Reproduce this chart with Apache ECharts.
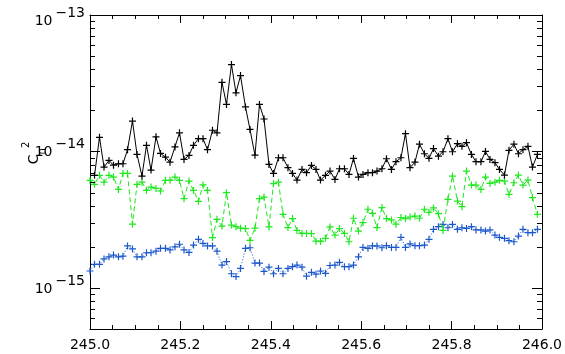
<!DOCTYPE html>
<html>
<head>
<meta charset="utf-8">
<script src="https://cdn.jsdelivr.net/npm/echarts@6/dist/echarts.min.js"></script>
<style>
  html, body { margin: 0; padding: 0; background: #fff; }
  #chart { width: 565px; height: 354px; }
</style>
</head>
<body>
<div id="chart"></div>
<script>
// Sample positions along the horizontal axis
const xs = [
  245.000,245.010,245.021,245.031,245.042,245.052,245.063,245.073,245.083,245.094,245.104,245.115,
  245.125,245.135,245.146,245.156,245.167,245.177,245.188,245.198,245.208,245.219,245.229,245.240,
  245.250,245.260,245.271,245.281,245.292,245.302,245.313,245.323,245.333,245.344,245.354,245.365,
  245.375,245.385,245.396,245.406,245.417,245.427,245.438,245.448,245.458,245.469,245.479,245.490,
  245.500,245.510,245.521,245.531,245.542,245.552,245.563,245.573,245.583,245.594,245.604,245.615,
  245.625,245.635,245.646,245.656,245.667,245.677,245.688,245.698,245.708,245.719,245.729,245.740,
  245.750,245.760,245.771,245.781,245.792,245.802,245.813,245.823,245.833,245.844,245.854,245.865,
  245.875,245.885,245.896,245.906,245.917,245.927,245.938,245.948,245.958,245.969,245.979,245.990
];

// Upper profile (black, solid)
const blackVals = [
  null, 6.68e-15, 1.27e-14, 7.68e-15, 8.59e-15, 7.94e-15, 8.13e-15, 8.13e-15, 1.03e-14, 1.67e-14, 9.51e-15,
  6.60e-15, 1.11e-14, 7.30e-15, 1.28e-14, 9.67e-15, 9.08e-15, 8.35e-15, 1.08e-14, 1.37e-14, 8.74e-15,
  9.35e-15, 1.11e-14, 1.24e-14, 1.24e-14, 1.03e-14, 1.43e-14, 1.37e-14, 3.21e-14, 2.21e-14, 4.33e-14,
  2.69e-14, 3.60e-14, 2.12e-14, 1.45e-14, 9.40e-15, 2.21e-14, 1.73e-14, 8.03e-15, 6.90e-15, 8.99e-15,
  8.99e-15, 7.60e-15, 6.90e-15, 6.17e-15, 7.39e-15, 6.99e-15, 7.90e-15, 7.39e-15, 6.17e-15, 6.68e-15,
  7.18e-15, 6.24e-15, 7.47e-15, 7.47e-15, 6.79e-15, 8.89e-15, 6.49e-15, 6.79e-15, 6.99e-15, 6.99e-15,
  7.18e-15, 7.47e-15, 8.84e-15, 7.39e-15, 8.41e-15, 8.99e-15, 1.35e-14, 7.60e-15, 8.35e-15, 1.13e-14,
  9.62e-15, 8.90e-15, 1.05e-14, 9.24e-15, 9.95e-15, 1.24e-14, 9.95e-15, 1.14e-14, 1.09e-14, 1.16e-14,
  9.51e-15, 8.41e-15, 8.41e-15, 1.00e-14, 8.74e-15, 8.27e-15, 7.39e-15, 6.71e-15, 1.02e-14, 1.13e-14,
  9.62e-15, 1.03e-14, 1.09e-14, 7.68e-15, 9.51e-15
];

// Middle profile (green, dashed)
const greenVals = [
  6.14e-15, 5.74e-15, 6.68e-15, 5.96e-15, 6.68e-15, 6.49e-15, 5.27e-15, 6.90e-15, 6.90e-15, 2.93e-15,
  5.74e-15, 5.96e-15, 5.19e-15, 5.48e-15, 5.36e-15, 5.13e-15, 6.14e-15, 6.14e-15, 6.49e-15, 6.14e-15,
  4.51e-15, 6.07e-15, 5.19e-15, 4.31e-15, 5.69e-15, 5.19e-15, 2.34e-15, 3.18e-15, 2.84e-15, 4.99e-15,
  2.89e-15, 2.81e-15, 2.74e-15, 2.72e-15, 2.23e-15, 2.74e-15, 4.51e-15, 4.63e-15, 2.80e-15, 5.81e-15,
  5.96e-15, 3.46e-15, 2.77e-15, 3.22e-15, 2.64e-15, 2.51e-15, 2.51e-15, 2.50e-15, 2.20e-15, 2.19e-15,
  2.31e-15, 2.80e-15, 2.44e-15, 2.72e-15, 2.51e-15, 2.18e-15, 3.24e-15, 2.61e-15, 3.01e-15, 3.77e-15,
  3.52e-15, 2.77e-15, 3.88e-15, 3.22e-15, 3.15e-15, 2.93e-15, 3.28e-15, 3.22e-15, 3.31e-15, 3.36e-15,
  3.24e-15, 3.77e-15, 3.58e-15, 3.86e-15, 3.50e-15, 2.64e-15, 4.46e-15, 6.60e-15, 4.33e-15, 3.94e-15,
  7.18e-15, 5.67e-15, 5.67e-15, 5.27e-15, 6.49e-15, 5.83e-15, 5.96e-15, 6.14e-15, 6.07e-15, 4.85e-15,
  5.90e-15, 6.71e-15, 5.67e-15, 6.17e-15, 4.59e-15, 3.46e-15
];

// Lower profile (blue, dotted)
const blueVals = [
  1.33e-15, 1.49e-15, 1.49e-15, 1.63e-15, 1.69e-15, 1.74e-15, 1.69e-15, 1.71e-15, 2.03e-15, 1.93e-15,
  1.69e-15, 1.69e-15, 1.81e-15, 1.81e-15, 1.86e-15, 1.95e-15, 1.95e-15, 1.90e-15, 2.00e-15, 2.09e-15,
  1.90e-15, 1.82e-15, 2.06e-15, 2.27e-15, 2.12e-15, 2.03e-15, 2.03e-15, 1.86e-15, 1.47e-15, 1.56e-15,
  1.27e-15, 1.21e-15, 1.39e-15, 1.95e-15, 1.97e-15, 1.52e-15, 1.52e-15, 1.32e-15, 1.42e-15, 1.27e-15,
  1.39e-15, 1.27e-15, 1.39e-15, 1.43e-15, 1.47e-15, 1.42e-15, 1.22e-15, 1.30e-15, 1.26e-15, 1.33e-15,
  1.28e-15, 1.46e-15, 1.47e-15, 1.54e-15, 1.43e-15, 1.43e-15, 1.47e-15, 1.69e-15, 1.98e-15, 1.95e-15,
  2.03e-15, 2.03e-15, 1.97e-15, 2.04e-15, 1.98e-15, 1.98e-15, 2.35e-15, 1.98e-15, 2.10e-15, 2.04e-15,
  2.04e-15, 2.06e-15, 2.27e-15, 2.69e-15, 2.81e-15, 2.92e-15, 2.76e-15, 2.92e-15, 2.69e-15, 2.76e-15,
  2.73e-15, 2.81e-15, 2.66e-15, 2.66e-15, 2.61e-15, 2.66e-15, 2.44e-15, 2.35e-15, 2.31e-15, 2.22e-15,
  2.18e-15, 2.40e-15, 2.69e-15, 2.54e-15, 2.54e-15, 2.69e-15
];

// Axis ranges and minor log ticks (2..9 per decade)
const xRange = [245.0, 246.0];
const yRange = [5e-16, 1e-13];
const yMinorTicks = [
  6e-16, 7e-16, 8e-16, 9e-16,
  2e-15, 3e-15, 4e-15, 5e-15, 6e-15, 7e-15, 8e-15, 9e-15,
  2e-14, 3e-14, 4e-14, 5e-14, 6e-14, 7e-14, 8e-14, 9e-14
];

const FONT = '"DejaVu Sans", "Liberation Sans", sans-serif';
const PLUS = 'path://M-0.6,-3.5 H0.6 V-0.6 H3.5 V0.6 H0.6 V3.5 H-0.6 V0.6 H-3.5 V-0.6 H-0.6 Z';

function pairs(vals) {
  return xs.map((x, i) => [x, vals[i]]);
}

// Power-of-ten labels; the topmost one sits just inside the frame
function powLabel(v) {
  const e = Math.log10(v);
  const r = Math.round(e);
  if (Math.abs(e - r) > 1e-6) return '';
  const top = Math.abs(v - yRange[1]) / yRange[1] < 1e-6;
  return top
    ? '{nt|10}{et|\u2212' + Math.abs(r) + '}'
    : '{n|10}{e|\u2212' + Math.abs(r) + '}';
}

const chart = echarts.init(document.getElementById('chart'), null, { renderer: 'canvas' });

const lineBase = {
  type: 'line',
  symbol: PLUS,
  symbolSize: 7,
  showSymbol: true,
  connectNulls: false,
  clip: false,
  animation: false,
  silent: true
};

chart.setOption({
  animation: false,
  backgroundColor: '#ffffff',
  textStyle: { fontFamily: FONT },
  grid: { left: 90, right: 21, top: 15, bottom: 25, containLabel: false },
  xAxis: [
    {
      type: 'value', min: xRange[0], max: xRange[1], interval: 0.2, position: 'bottom',
      axisLine: { show: true, onZero: false, lineStyle: { color: '#000', width: 1 } },
      axisTick: { show: true, inside: true, length: 8, lineStyle: { color: '#000' } },
      minorTick: { show: true, splitNumber: 4, length: 4, lineStyle: { color: '#000' } },
      splitLine: { show: false },
      axisLabel: {
        show: true, margin: 9, color: '#000', fontFamily: FONT, fontSize: 14,
        formatter: v => v.toFixed(1)
      }
    },
    {
      type: 'value', min: xRange[0], max: xRange[1], interval: 0.2, position: 'top',
      axisLine: { show: true, onZero: false, lineStyle: { color: '#000', width: 1 } },
      axisTick: { show: true, inside: true, length: 8, lineStyle: { color: '#000' } },
      minorTick: { show: true, splitNumber: 4, length: 4, lineStyle: { color: '#000' } },
      splitLine: { show: false },
      axisLabel: { show: false }
    }
  ],
  yAxis: [
    {
      type: 'log', logBase: 10, min: yRange[0], max: yRange[1], position: 'left',
      axisLine: { show: true, onZero: false, lineStyle: { color: '#000', width: 1 } },
      axisTick: { show: true, inside: true, length: 10, lineStyle: { color: '#000' } },
      splitLine: { show: false },
      axisLabel: {
        show: true, margin: 5, color: '#000', fontFamily: FONT, fontSize: 14,
        formatter: powLabel,
        padding: [0, 0, 6, 0],
        rich: {
          n: { fontSize: 14, fontFamily: FONT, color: '#000', verticalAlign: 'bottom', lineHeight: 22, padding: [0, 3, 0, 0] },
          e: { fontSize: 14, fontFamily: FONT, color: '#000', verticalAlign: 'top', lineHeight: 22 },
          nt: { fontSize: 14, fontFamily: FONT, color: '#000', verticalAlign: 'bottom', padding: [18, 3, 0, 0] },
          et: { fontSize: 14, fontFamily: FONT, color: '#000', verticalAlign: 'bottom', padding: [0, 0, 8, 0] }
        }
      }
    },
    {
      type: 'log', logBase: 10, min: yRange[0], max: yRange[1], position: 'right',
      axisLine: { show: true, onZero: false, lineStyle: { color: '#000', width: 1 } },
      axisTick: { show: true, inside: true, length: 10, lineStyle: { color: '#000' } },
      splitLine: { show: false },
      axisLabel: { show: false }
    }
  ],
  graphic: [
    {
      type: 'text', x: 34, y: 153, rotation: Math.PI / 2,
      style: {
        text: '{c|C}{s|n}{p|2}',
        align: 'center', verticalAlign: 'middle',
        rich: {
          c: { fontSize: 14, fontFamily: FONT, fill: '#000', verticalAlign: 'middle', lineHeight: 26 },
          s: { fontSize: 10, fontFamily: FONT, fill: '#000', verticalAlign: 'bottom', lineHeight: 26 },
          p: { fontSize: 10, fontFamily: FONT, fill: '#000', verticalAlign: 'top', lineHeight: 26 }
        }
      }
    }
  ],
  series: [
    {
      // minor log ticks on the left and right frame edges
      type: 'custom',
      xAxisIndex: 0, yAxisIndex: 0,
      silent: true, z: 10, clip: false,
      data: yMinorTicks.map(v => [xRange[0], v]),
      renderItem: function (params, api) {
        const l = api.coord([xRange[0], api.value(1)]);
        const r = api.coord([xRange[1], api.value(1)]);
        const y = Math.round(l[1]) + 0.5;
        return {
          type: 'group',
          children: [
            { type: 'line', shape: { x1: l[0], y1: y, x2: l[0] + 5, y2: y }, style: { stroke: '#000', lineWidth: 1 } },
            { type: 'line', shape: { x1: r[0] - 5, y1: y, x2: r[0], y2: y }, style: { stroke: '#000', lineWidth: 1 } }
          ]
        };
      }
    },
    Object.assign({}, lineBase, {
      name: 'black', data: pairs(blackVals), z: 4,
      lineStyle: { color: '#000000', width: 1, type: 'solid' },
      itemStyle: { color: '#000000' }
    }),
    Object.assign({}, lineBase, {
      name: 'green', data: pairs(greenVals), z: 3,
      lineStyle: { color: '#1ee81e', width: 1, type: [5, 3] },
      itemStyle: { color: '#1ee81e' }
    }),
    Object.assign({}, lineBase, {
      name: 'blue', data: pairs(blueVals), z: 2,
      lineStyle: { color: '#1c58cc', width: 1, type: [1, 2] },
      itemStyle: { color: '#1c58cc' }
    })
  ]
});
</script>
</body>
</html>
